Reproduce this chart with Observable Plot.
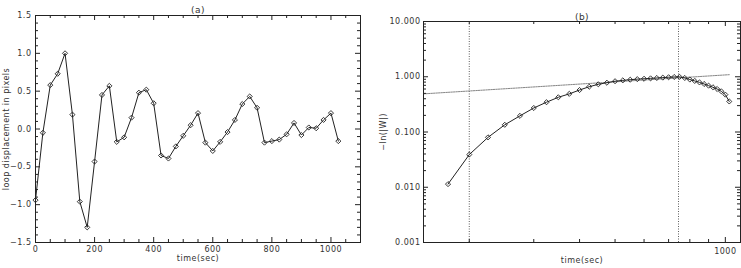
<!DOCTYPE html>
<html><head><meta charset="utf-8">
<script src="https://cdn.jsdelivr.net/npm/d3@7"></script>
<script src="https://cdn.jsdelivr.net/npm/@observablehq/plot@0.6"></script>
<style>
html,body{margin:0;padding:0;background:#fff;}
#wrap{position:relative;width:741px;height:268px;overflow:hidden;}
#a,#b{position:absolute;top:0;}
#a{left:0;} #b{left:370px;}
svg text{letter-spacing:0.5px;}
</style></head>
<body><div id="wrap"><div id="a"></div><div id="b"></div></div>
<script>
// Panel (a): loop displacement vs time
const timesA = [0,25,50,75,100,125,150,175,200,225,250,275,300,325,350,375,400,425,450,475,500,
  525,550,575,600,625,650,675,700,725,750,775,800,825,850,875,900,925,950,975,1000,1025];
const displacement = [-0.94,-0.05,0.58,0.73,1.00,0.19,-0.96,-1.30,-0.43,0.45,0.57,-0.17,-0.11,0.15,0.48,0.52,0.34,
  -0.35,-0.39,-0.23,-0.09,0.05,0.21,-0.18,-0.29,-0.17,-0.04,0.12,0.33,0.43,0.28,-0.18,-0.16,-0.14,-0.07,0.08,
  -0.08,0.02,0.01,0.12,0.21,-0.16];
const yTicksA = [-1.5,-1.0,-0.5,0,0.5,1.0,1.5];
const xTicksA = [0,200,400,600,800,1000];

// Panel (b): -ln(|W|) vs time (log-log)
const timesB = [175,200,225,250,275,300,325,350,375,400,425,450,475,500,525,550,575,600,625,650,675,700,725,750,
  775,800,825,850,875,900,925,950,975,1000,1025];
const lnW = [0.0114,0.039,0.080,0.135,0.196,0.272,0.346,0.425,0.49,0.575,0.66,0.73,0.78,0.83,0.86,0.885,0.905,0.92,
  0.935,0.95,0.965,0.98,0.99,0.995,0.95,0.89,0.84,0.79,0.74,0.69,0.645,0.60,0.545,0.475,0.357];
const fitT = [150,1025];
const fitV = [0.49,1.09];
const markerTimes = [200,745];
const yTicksB = [0.001,0.01,0.1,1,10];
const xTicksB = [1000];

const font = "'DejaVu Sans', sans-serif";
const ink = "#222";
const baseStyle = {fontFamily: font, fontSize: "8px", color: "#333", background: "white", overflow: "visible"};

// ---------- Panel (a) ----------
const A = {w: 370, h: 268, ml: 35, mr: 10, mt: 15, mb: 26};
const fwA = A.w - A.ml - A.mr, fhA = A.h - A.mt - A.mb;
const dataA = timesA.map((t, i) => ({t, v: displacement[i]}));
const minorXA = d3.range(0, 1101, 50).filter(d => d % 200 !== 0);
const minorYA = d3.range(-15, 16).map(d => d / 10).filter(d => !yTicksA.includes(d));

const plotA = Plot.plot({
  width: A.w, height: A.h, marginLeft: A.ml, marginRight: A.mr, marginTop: A.mt, marginBottom: A.mb,
  style: baseStyle,
  x: {domain: [0, 1100]},
  y: {domain: [-1.5, 1.5]},
  marks: [
    Plot.line(dataA, {x: "t", y: "v", stroke: ink, strokeWidth: 1}),
    Plot.dot(dataA, {x: "t", y: "v", symbol: "diamond2", r: 2.3, stroke: ink, strokeWidth: 0.9, fill: "none"}),
    Plot.tickX(minorXA, {x: d => d, insetTop: fhA - 3, stroke: ink}),
    Plot.tickX(minorXA, {x: d => d, insetBottom: fhA - 3, stroke: ink}),
    Plot.tickX(xTicksA, {x: d => d, insetTop: fhA - 5, stroke: ink}),
    Plot.tickX(xTicksA, {x: d => d, insetBottom: fhA - 5, stroke: ink}),
    Plot.tickY(minorYA, {y: d => d, insetRight: fwA - 3, stroke: ink}),
    Plot.tickY(minorYA, {y: d => d, insetLeft: fwA - 3, stroke: ink}),
    Plot.tickY(yTicksA, {y: d => d, insetRight: fwA - 5, stroke: ink}),
    Plot.tickY(yTicksA, {y: d => d, insetLeft: fwA - 5, stroke: ink}),
    Plot.frame({stroke: ink}),
    Plot.axisX({ticks: xTicksA, tickSize: 0, tickPadding: 4, label: null, tickFormat: d => String(d)}),
    Plot.axisY({ticks: yTicksA, tickSize: 0, tickPadding: 4, label: null, tickFormat: d3.format(".1f")}),
    Plot.text(["(a)"], {frameAnchor: "top", dy: -9, fill: "#333", fontSize: 9}),
    Plot.text(["time(sec)"], {frameAnchor: "bottom", dy: 18, fill: "#333"}),
    Plot.text(["loop displacement in pixels"], {frameAnchor: "left", textAnchor: "middle", rotate: -90, dx: -29, fill: "#333"})
  ]
});
document.getElementById("a").appendChild(plotA);

// ---------- Panel (b) ----------
const B = {w: 371, h: 268, ml: 53, mr: 1, mt: 21, mb: 26};
const fwB = B.w - B.ml - B.mr, fhB = B.h - B.mt - B.mb;
const dataB = timesB.map((t, i) => ({t, v: lnW[i]}));
const fitB = fitT.map((t, i) => ({t, v: fitV[i]}));
const minorXB = d3.range(2, 10).map(k => k * 100);
const minorYB = [0.001, 0.01, 0.1, 1].flatMap(d => d3.range(2, 10).map(k => k * d));

const plotB = Plot.plot({
  width: B.w, height: B.h, marginLeft: B.ml, marginRight: B.mr, marginTop: B.mt, marginBottom: B.mb,
  style: baseStyle,
  x: {type: "log", domain: [150, 1100]},
  y: {type: "log", domain: [0.001, 10]},
  marks: [
    Plot.ruleX(markerTimes, {x: d => d, stroke: "#333", strokeWidth: 0.8, strokeDasharray: "1,1.5"}),
    Plot.line(fitB, {x: "t", y: "v", stroke: "#777", strokeWidth: 0.9, strokeDasharray: "1.5,1"}),
    Plot.line(dataB, {x: "t", y: "v", stroke: ink, strokeWidth: 1}),
    Plot.dot(dataB, {x: "t", y: "v", symbol: "diamond2", r: 2.3, stroke: ink, strokeWidth: 0.9, fill: "none"}),
    Plot.tickX(minorXB, {x: d => d, insetTop: fhB - 3, stroke: ink}),
    Plot.tickX(minorXB, {x: d => d, insetBottom: fhB - 3, stroke: ink}),
    Plot.tickX(xTicksB, {x: d => d, insetTop: fhB - 5, stroke: ink}),
    Plot.tickX(xTicksB, {x: d => d, insetBottom: fhB - 5, stroke: ink}),
    Plot.tickY(minorYB, {y: d => d, insetRight: fwB - 3, stroke: ink}),
    Plot.tickY(minorYB, {y: d => d, insetLeft: fwB - 3, stroke: ink}),
    Plot.tickY(yTicksB, {y: d => d, insetRight: fwB - 5, stroke: ink}),
    Plot.tickY(yTicksB, {y: d => d, insetLeft: fwB - 5, stroke: ink}),
    Plot.frame({stroke: ink}),
    Plot.axisX({ticks: xTicksB, tickSize: 0, tickPadding: 6, label: null, tickFormat: d => String(d)}),
    Plot.axisY({ticks: yTicksB, tickSize: 0, tickPadding: 3, label: null, tickFormat: d3.format(".3f")}),
    Plot.text(["(b)"], {frameAnchor: "top", dy: -8, fill: "#333", fontSize: 9}),
    Plot.text(["time(sec)"], {frameAnchor: "bottom", dy: 20, fill: "#333"}),
    Plot.text(["\u2212ln(|W|)"], {frameAnchor: "left", textAnchor: "middle", rotate: -90, dx: -40, fill: "#333"})
  ]
});
document.getElementById("b").appendChild(plotB);
</script>
</body></html>
